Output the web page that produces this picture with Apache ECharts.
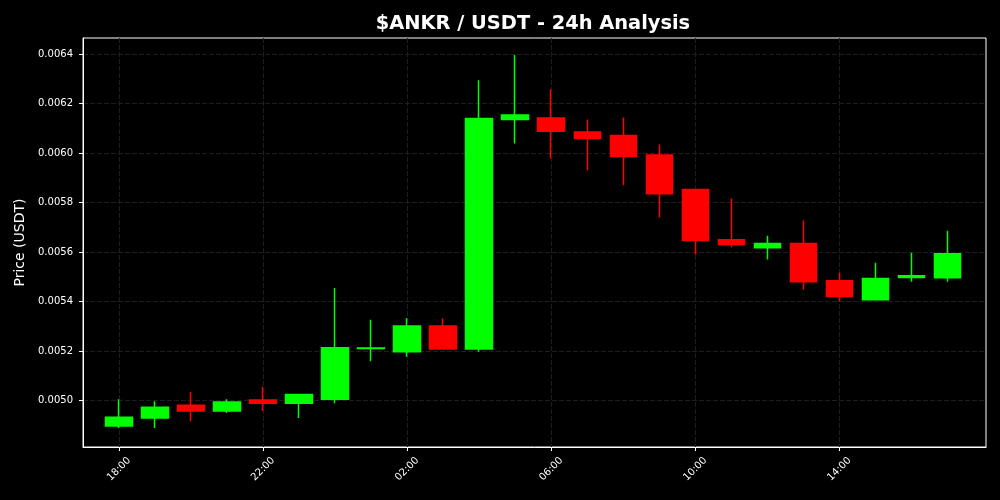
<!DOCTYPE html>
<html>
<head>
<meta charset="utf-8">
<script src="https://cdn.jsdelivr.net/npm/echarts@6/dist/echarts.min.js"></script>
<style>
html,body{margin:0;padding:0;background:#000;}
#chart{width:1000px;height:500px;}
</style>
</head>
<body>
<div id="chart"></div>
<script>
const hours = ['18:00','19:00','20:00','21:00','22:00','23:00','00:00','01:00','02:00','03:00','04:00','05:00','06:00','07:00','08:00','09:00','10:00','11:00','12:00','13:00','14:00','15:00','16:00','17:00'];
const opens  = [0.004897,0.004929,0.004981,0.004957,0.005002,0.004989,0.005005,0.005210,0.005197,0.005301,0.005208,0.006136,0.006142,0.006085,0.006071,0.005992,0.005853,0.005650,0.005617,0.005634,0.005484,0.005407,0.005497,0.005496];
const closes = [0.004932,0.004973,0.004957,0.004994,0.004989,0.005024,0.005213,0.005212,0.005301,0.005208,0.006140,0.006154,0.006088,0.006059,0.005986,0.005836,0.005647,0.005630,0.005634,0.005480,0.005420,0.005493,0.005504,0.005593];
const lows   = [0.004889,0.004889,0.004916,0.004949,0.004957,0.004929,0.004989,0.005159,0.005177,0.005207,0.005197,0.006039,0.005978,0.005931,0.005870,0.005740,0.005590,0.005619,0.005570,0.005448,0.005400,0.005407,0.005480,0.005480];
const highs  = [0.005005,0.004997,0.005034,0.005005,0.005055,0.005027,0.005455,0.005326,0.005332,0.005332,0.006294,0.006396,0.006258,0.006136,0.006144,0.006035,0.005855,0.005816,0.005666,0.005727,0.005516,0.005557,0.005597,0.005686];
const xTickIdx = [0,4,8,12,16,20];
const yTicks = [0.0050,0.0052,0.0054,0.0056,0.0058,0.0060,0.0062,0.0064];

const candleData = hours.map((h,i)=>[i, opens[i], closes[i], lows[i], highs[i]]);

const chart = echarts.init(document.getElementById('chart'));
const font = 'DejaVu Sans';
chart.setOption({
  backgroundColor:'#000',
  animation:false,
  title:{
    text:'$ANKR / USDT - 24h Analysis',
    left:528, top:9, textAlign:'center',
    textStyle:{color:'#fff', fontSize:19.4, fontWeight:'bold', fontFamily:font}
  },
  grid:{left:83, right:14, top:38, bottom:53, show:true, borderColor:'#fff', borderWidth:1, backgroundColor:'#000'},
  xAxis:{
    type:'value', min:-1, max:24.07,
    axisLine:{show:true, onZero:false, lineStyle:{color:'#fff', width:1}},
    axisTick:{show:true, customValues:xTickIdx, length:4, lineStyle:{color:'#fff'}},
    axisLabel:{customValues:xTickIdx, rotate:45, align:'center', verticalAlign:'middle',
      color:'#fff', fontSize:10, fontFamily:font, margin:22,
      formatter:(v)=>hours[Math.round(v)] || ''},
    splitLine:{show:true, lineStyle:{color:'#1e1e1e', width:1, type:[5,2]}}
  },
  yAxis:{
    type:'value', min:0.004812, max:0.006465,
    name:'Price (USDT)', nameLocation:'middle', nameGap:55,
    nameTextStyle:{color:'#fff', fontSize:14, fontFamily:font},
    axisLine:{show:true, onZero:false, lineStyle:{color:'#fff', width:1}},
    axisTick:{show:true, customValues:yTicks, length:4, lineStyle:{color:'#fff'}},
    axisLabel:{customValues:yTicks, color:'#fff', fontSize:10, fontFamily:font, margin:10,
      formatter:(v)=>v.toFixed(4)},
    splitLine:{show:true, lineStyle:{color:'#1e1e1e', width:1, type:[5,2]}}
  },
  series:[{
    type:'candlestick',
    data:candleData,
    encode:{x:0, y:[1,2,3,4]},
    barWidth:27,
    itemStyle:{
      color:'#00ff00', color0:'#ff0000',
      borderColor:'#00ff00', borderColor0:'#ff0000',
      borderWidth:1.5
    }
  }]
});
</script>
</body>
</html>
